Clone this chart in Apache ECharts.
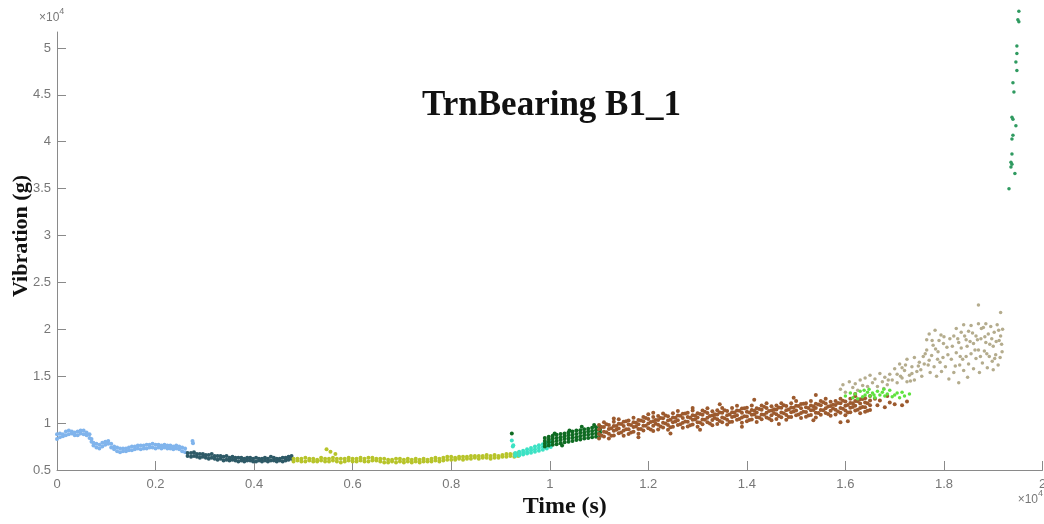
<!DOCTYPE html>
<html>
<head>
<meta charset="utf-8">
<script src="https://cdn.jsdelivr.net/npm/echarts@6/dist/echarts.min.js"></script>
<style>
html,body{margin:0;padding:0;background:#fff;}
#chart{width:1044px;height:524px;}
</style>
</head>
<body>
<div id="chart"></div>
<script>
// ---- Data (x: time in s, y: vibration in g) ----
const titleText = 'TrnBearing B1_1';
const xName = 'Time (s)';
const yName = 'Vibration (g)';
const xTickValues = [0, 2000, 4000, 6000, 8000, 10000, 12000, 14000, 16000, 18000, 20000];
const xTickLabels = ['0', '0.2', '0.4', '0.6', '0.8', '1', '1.2', '1.4', '1.6', '1.8', '2'];
const yTickValues = [5000, 10000, 15000, 20000, 25000, 30000, 35000, 40000, 45000, 50000];
const yTickLabels = ['0.5', '1', '1.5', '2', '2.5', '3', '3.5', '4', '4.5', '5'];

// columns: [x, y1, y2, ...]
const seg1 = [[0,8300,8800],[60,8500,8900],[120,8600,8800],[180,8700,9100],[240,8800,9200],[300,8900,9100],[360,8700,9000],[420,8700,9100],[480,8900,9200],[540,8800,9200],[600,8700,9000],[660,8400,8800],[700,8000,8300],[740,7600,7900],[800,7400,7800],[860,7300,7700],[920,7500,7900],[980,7700,8000],[1040,7800,8100],[1100,7400,7800],[1160,7200,7500],[1220,7000,7400],[1280,6900,7300],[1340,7000,7300],[1400,7000,7300],[1460,7100,7400],[1520,7100,7500],[1580,7200,7500],[1640,7300,7600],[1700,7200,7600],[1760,7300,7600],[1820,7300,7700],[1880,7400,7700],[1940,7400,7800],[2000,7300,7700],[2060,7400,7700],[2120,7300,7600],[2180,7400,7700],[2240,7300,7600],[2300,7300,7600],[2360,7200,7500],[2420,7300,7600],[2480,7200,7500],[2540,7000,7400],[2600,6900,7300],[2750,8100],[2760,7850]];
const seg2 = [[2650,6500,6800],[2720,6400,6800],[2780,6500,6900],[2840,6400,6700],[2900,6300,6700],[2960,6400,6700],[3020,6300,6600],[3080,6200,6600],[3140,6300,6700],[3200,6200,6500],[3260,6100,6500],[3320,6200,6500],[3380,6000,6400],[3440,6100,6500],[3500,6000,6300],[3560,6100,6400],[3620,6000,6300],[3680,5900,6300],[3740,6000,6300],[3800,5900,6200],[3860,6000,6300],[3920,6000,6300],[3980,5900,6200],[4040,5900,6300],[4100,6000,6200],[4160,5900,6200],[4220,6000,6300],[4280,5900,6200],[4340,6000,6400],[4400,6000,6300],[4460,5900,6200],[4520,6000,6200],[4580,5900,6300],[4640,6000,6300],[4700,6100,6400],[4760,6200,6500]];
const seg3 = [[4800,5900,6200],[4880,6000,6200],[4960,5900,6200],[5040,5900,6300],[5120,6000,6200],[5200,5900,6200],[5280,5900,6100],[5360,6000,6300],[5440,5900,6200],[5520,5900,6200],[5600,6000,6300],[5680,5900,6200],[5760,5800,6200],[5840,5900,6200],[5920,6000,6300],[6000,5900,6200],[6080,5900,6200],[6160,6000,6300],[6240,5900,6200],[6320,5900,6300],[6400,6000,6300],[6480,6000,6200],[6560,5900,6200],[6640,5800,6200],[6720,5800,6100],[6800,5900,6100],[6880,5800,6200],[6960,5900,6200],[7040,5800,6100],[7120,5900,6200],[7200,5800,6100],[7280,5900,6200],[7360,5800,6100],[7440,5900,6200],[7520,5900,6100],[7600,5900,6200],[7680,6000,6300],[7760,5900,6200],[7840,6000,6300],[7920,6100,6400],[8000,6100,6400],[8080,6100,6300],[8160,6200,6400],[8240,6100,6400],[8320,6200,6400],[8400,6200,6500],[8480,6300,6500],[8560,6200,6500],[8640,6300,6500],[8720,6300,6600],[8800,6200,6500],[8880,6300,6600],[8960,6300,6500],[9040,6400,6600],[9120,6400,6700],[9200,6500,6700],[9280,6400,6700],[9360,6500,6800],[5470,7200],[5550,6950],[5650,6700]];
const seg4 = [[9300,6500,6650,6800],[9380,6550,6750,6950],[9460,6650,6850,7050],[9540,6750,6950,7200],[9620,6850,7100,7350],[9700,6950,7200,7500],[9780,7050,7350,7650],[9860,7150,7450,7750],[9940,7300,7600,7900],[10020,7450,7700,8000],[9230,8150],[9250,7500],[9260,7650]];
const seg5 = [[9900,7500,7800,8100,8400],[9980,7600,7950,8250,8550],[10060,7700,8000,8350,8650],[10140,7750,8100,8400,8750],[10220,7850,8200,8500,8850],[10300,7950,8300,8600,8900],[10380,8000,8350,8700,9000],[10460,8100,8450,8750,9100],[10540,8200,8500,8850,9200],[10620,8250,8600,8950,9250],[10700,8350,8700,9000,9350],[10780,8400,8750,9100,9400],[10860,8500,8850,9150,9500],[10940,8550,8900,9250,9550],[11020,8650,9000,9300,9650],[10100,8900],[10400,9200],[10650,9600],[10900,9800],[10250,7600],[9230,8900]];
const seg6 = [
  [11000,8350,8850,9350,9800],[11100,8580,9080,9580,10080],[11200,8360,8860,9360,9810],[11300,8690,9190,9690,10140],[11400,8920,9420,9920,10420],[11500,8650,9200,9700,10150],
  [11600,8840,9340,9840,10290],[11700,9080,9580,10080,10580],[11800,8870,9370,9870,10320],[11900,9210,9710,10210,10660],[12000,9450,9950,10450,10950],[12100,9160,9710,10210,10660],
  [12200,9320,9820,10320,10770],[12300,9530,10030,10530,11030],[12400,9290,9790,10290,10740],[12500,9600,10100,10600,11050],[12600,9800,10300,10800,11300],[12700,9500,10050,10550,11000],
  [12800,9650,10150,10650,11100],[12900,9850,10350,10850,11350],[13000,9600,10100,10600,11050],[13100,9890,10390,10890,11340],[13200,10080,10580,11080,11580],[13300,9770,10320,10820,11270],
  [13400,9910,10410,10910,11360],[13500,10100,10600,11100,11600],[13600,9850,10350,10850,11300],[13700,10150,10650,11150,11600],[13800,10350,10850,11350,11850],[13900,10050,10600,11100,11550],
  [14000,10200,10700,11200,11650],[14100,10390,10890,11390,11890],[14200,10130,10630,11130,11580],[14300,10420,10920,11420,11870],[14400,10610,11110,11610,12110],[14500,10300,10850,11350,11800],
  [14600,10440,10940,11440,11890],[14700,10630,11130,11630,12130],[14800,10370,10870,11370,11820],[14900,10660,11160,11660,12110],[15000,10850,11350,11850,12350],[15100,10540,11090,11590,12040],
  [15200,10680,11180,11680,12130],[15300,10870,11370,11870,12370],[15400,10610,11110,11610,12060],[15500,10900,11400,11900,12350],[15600,11090,11590,12090,12590],[15700,10780,11330,11830,12280],
  [15800,10920,11420,11920,12370],[15900,11110,11610,12110,12610],[16000,10850,11350,11850,12300],[16100,11150,11650,12150,12600],[16200,11350,11850,12350,12850],[16300,11050,11600,12100,12550],
  [16400,11200,11700,12200,12650],[16500,11400,11900,12400,12900],
  [11050,8690,9590],[11150,9020,9870],[11250,8650,9450],[11350,9280,9680],[11450,9010,9910],[11550,9345,10195],[11650,8985,9785],[11750,9625,10025],[11850,9365,10265],[11950,9705,10555],
  [12050,9330,10130],[12150,9940,10340],[12250,9650,10550],[12350,9960,10810],[12450,9570,10370],[12550,10175,10575],[12650,9875,10775],[12750,10175,11025],[12850,9775,10575],[12950,10375,10775],
  [13050,10070,10970],[13150,10360,11210],[13250,9950,10750],[13350,10540,10940],[13450,10230,11130],[13550,10525,11375],[13650,10125,10925],[13750,10725,11125],[13850,10425,11325],[13950,10725,11575],
  [14050,10320,11120],[14150,10910,11310],[14250,10600,11500],[14350,10890,11740],[14450,10480,11280],[14550,11070,11470],[14650,10760,11660],[14750,11050,11900],[14850,10640,11440],[14950,11230,11630],
  [15050,10920,11820],[15150,11210,12060],[15250,10800,11600],[15350,11390,11790],[15450,11080,11980],[15550,11370,12220],[15650,10960,11760],[15750,11550,11950],[15850,11240,12140],[15950,11530,12380],
  [16050,11125,11925],[16150,11725,12125],[16250,11425,12325],[16350,11725,12575],[16450,11325,12125],
  [11300,10500],[11800,8500],[12100,11100],[12450,8900],[12900,11600],[13050,9300],[13450,12000],[13900,9600],[14150,12500],[14650,9900],[14950,12700],[15350,10300],[15400,13000],[15900,10100],[16050,10200],[16200,13100],
  [16600,12600],[16650,11900],[16700,12400],[16800,11700],[16850,12900],[16900,12200],[17000,12000],[17150,11900],[17250,12300]];
const seg7 = [[16000,12900],[16100,13200],[16150,12700],[16200,13100],[16250,12600],[16300,13400],[16350,12800],[16400,13000],[16450,13300],[16480,13600],[16500,12900],[16550,13200],[16600,12700],[16650,13400],[16700,13000],[16750,13300],[16800,12900],[16850,13100],[16900,13500],[16950,12800],[17000,13000],[17050,13200],[17100,12700],[17200,12900],[17300,13100],[16380,13500],[16580,13000],[16780,13600],[17150,13300]];
const seg8 = [[15900,13600],[15950,14100],[16000,13300],[16080,14400],[16150,13800],[16200,14200],[16250,13500],[16300,14600],[16350,14000],[16400,14800],[16450,13900],[16500,15100],[16550,14300],[16600,14700],[16650,13900],[16700,15300],[16750,14400],[16800,14900],[16850,14100],[16900,15200],[16950,14600],[17000,15800],[17050,15200],[17100,16300],[17150,14800],[17200,15600],[17250,16800],[17300,15100],[17350,16000],[17400,14600],[17450,15500],[17500,16500],[17550,15000],[17050,14300],[17250,14400],[17400,17000],[17150,15900],[17350,15300],[17650,17800],[17650,18900],[17680,16200],[17700,19500],[17720,15400],[17750,17200],[17780,18300],[17800,16000],[17820,19900],[17850,15000],[17880,17600],[17900,18800],[17920,16500],[17950,15500],[17980,17000],[18000,19200],[18030,16000],[18060,18100],[18100,14700],[18150,16800],[18200,15400],[18250,17500],[18300,14300],[18320,16200],[18350,18000],[18400,15600],[18450,17100],[18480,14900],[18200,19300],[18250,20100],[18300,18600],[18350,19700],[18400,20500],[18450,18900],[18500,16300],[18500,19800],[18550,17400],[18550,20400],[18600,15800],[18600,18500],[18650,19300],[18650,16900],[18700,20600],[18700,17800],[18720,15400],[18750,19000],[18780,16400],[18800,20200],[18820,17700],[18850,18600],[18880,15900],[18900,19500],[18920,17100],[18950,20300],[18980,16600],[19000,18200],[19020,19700],[19050,17300],[19080,20500],[19100,16200],[19120,18800],[19150,19300],[19180,17600],[19190,20000],[18850,20600],[19000,15700],[18700,22600],[19150,21800],
  [17600,16300],[17620,17400],[17700,16700],[17760,18800],[17830,17900],[17870,16800],[17940,19400],[17990,18500],[18080,17300],[18120,19000],[18170,18200],[18230,16100],[18280,19000],[18330,17100],[18380,16800],[18420,19300],[18470,18200],[18530,18700],[18580,19600],[18630,17800],[18680,18900],[18740,17100],[18760,20100],[18830,19200],[18870,17400],[18930,18400],[18970,19000],[19030,16900],[19060,18700],[19110,19900],[19140,17000],[19170,18400],[16780,13700],[16870,14600],[17120,15000],[17220,16200],[17320,14500],[17480,16100],[17530,15700],[17580,17100]];
const seg9 = [[19520,53900],[19500,53000],[19520,52800],[19480,50200],[19480,49400],[19460,48500],[19480,47600],[19400,46300],[19420,45300],[19380,42600],[19400,42400],[19460,41700],[19400,40700],[19380,40300],[19380,38700],[19360,37800],[19380,37600],[19360,37300],[19440,36600],[19320,35000]];

const segments = [
  {data: seg1, color: '#80b4ec', size: 4},
  {data: seg2, color: '#2e5a67', size: 4},
  {data: seg3, color: '#b7c42a', size: 4},
  {data: seg4, color: '#3ce2c4', size: 4},
  {data: seg5, color: '#0f6b22', size: 4},
  {data: seg6, color: '#9c5a2e', size: 4},
  {data: seg8, color: '#b4ac8d', size: 3.5},
  {data: seg7, color: '#5fe23f', size: 3.5},
  {data: seg9, color: '#2f9a60', size: 3.5}
];

function toPoints(cols) {
  const pts = [];
  cols.forEach(c => { for (let i = 1; i < c.length; i++) pts.push([c[0], c[i]]); });
  return pts;
}

const chart = echarts.init(document.getElementById('chart'), null, {renderer: 'canvas'});
const axisGray = '#8a8a8a';
const labelGray = '#777';
const supRich = {
  a: {fontFamily: 'Liberation Sans', fontSize: 12, fill: labelGray, lineHeight: 17, verticalAlign: 'bottom'},
  b: {fontFamily: 'Liberation Sans', fontSize: 9, fill: labelGray, lineHeight: 17, verticalAlign: 'top'}
};
chart.setOption({
  backgroundColor: '#ffffff',
  animation: false,
  title: {
    text: titleText,
    left: 417, top: 83,
    textStyle: {fontFamily: 'Liberation Serif', fontWeight: 'bold', fontSize: 35, color: '#111'}
  },
  grid: {left: 57, right: 1.5, top: 32, bottom: 54, containLabel: false, outerBoundsMode: 'none'},
  xAxis: {
    type: 'value', min: 0, max: 20000, interval: 2000,
    name: xName, nameLocation: 'middle', nameGap: 25, nameMoveOverlap: false,
    nameTextStyle: {fontFamily: 'Liberation Serif', fontWeight: 'bold', fontSize: 24, color: '#111', padding: [0, 0, 0, 30]},
    axisLine: {lineStyle: {color: axisGray, width: 1}},
    axisTick: {inside: true, length: 9, lineStyle: {color: axisGray}},
    axisLabel: {color: labelGray, fontFamily: 'Liberation Sans', fontSize: 13, margin: 8,
      formatter: v => { const i = xTickValues.indexOf(v); return i >= 0 ? xTickLabels[i] : ''; }},
    splitLine: {show: false}
  },
  yAxis: {
    type: 'value', min: 5000, max: 51700, interval: 5000,
    name: yName, nameLocation: 'middle', nameGap: 25, nameRotate: 90, nameMoveOverlap: false,
    nameTextStyle: {fontFamily: 'Liberation Serif', fontWeight: 'bold', fontSize: 22, color: '#111', padding: [0, 0, 0, 30]},
    axisLine: {show: true, lineStyle: {color: axisGray, width: 1}},
    axisTick: {show: true, inside: true, length: 9, lineStyle: {color: axisGray}, customValues: yTickValues},
    axisLabel: {color: labelGray, fontFamily: 'Liberation Sans', fontSize: 13, margin: 6, customValues: yTickValues,
      formatter: v => { const i = yTickValues.indexOf(v); return i >= 0 ? yTickLabels[i] : ''; }},
    splitLine: {show: false}
  },
  graphic: [
    {type: 'text', left: 39, top: 7, style: {text: '{a|×10}{b|4}', rich: supRich}},
    {type: 'text', right: 1, top: 489, style: {text: '{a|×10}{b|4}', rich: supRich}}
  ],
  series: segments.map(s => ({
    type: 'scatter', data: toPoints(s.data), symbol: 'circle', symbolSize: s.size,
    itemStyle: {color: s.color, opacity: 1}, clip: false, silent: true
  }))
});
</script>
</body>
</html>
